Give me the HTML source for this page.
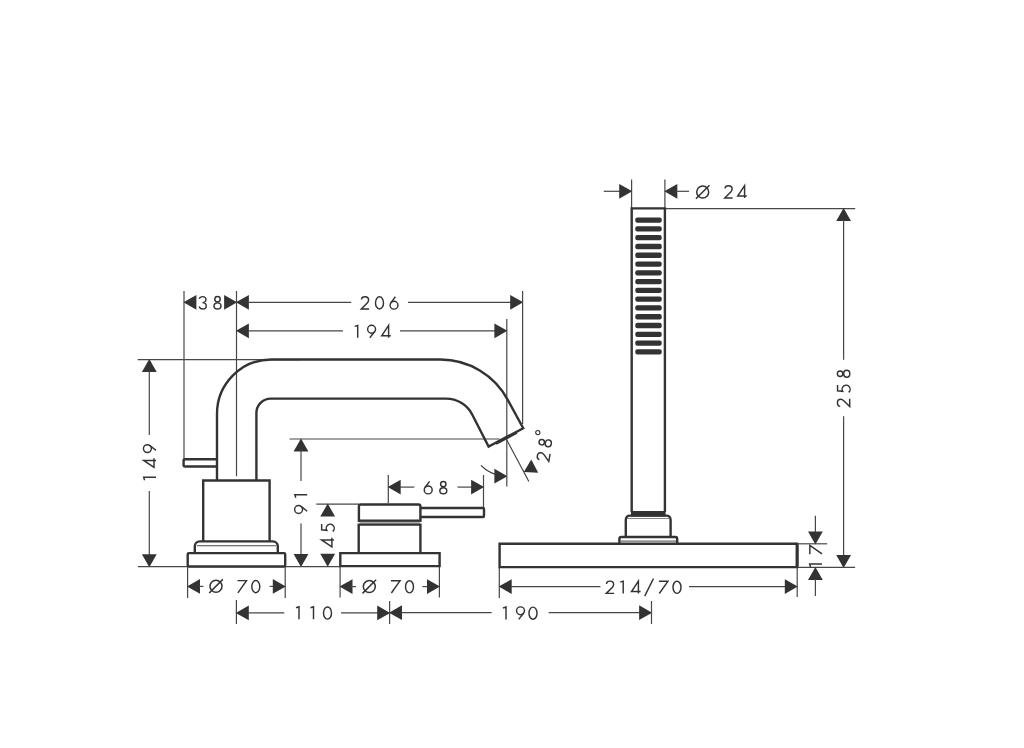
<!DOCTYPE html>
<html><head><meta charset="utf-8"><style>
html,body{margin:0;padding:0;background:#fff;width:1024px;height:748px;overflow:hidden}
svg{display:block}
text{font-family:"Liberation Sans",sans-serif;fill:#333}
</style></head><body>
<svg width="1024" height="748" viewBox="0 0 1024 748">
<rect width="1024" height="748" fill="#fff"/>
<line x1="184" y1="291" x2="184" y2="459" stroke="#474747" stroke-width="1.2"/>
<line x1="236.5" y1="291" x2="236.5" y2="476.3" stroke="#474747" stroke-width="1.2"/>
<polygon points="183.40,302.30 196.40,294.90 196.40,309.70" fill="#333"/>
<polygon points="237.10,302.30 224.10,294.90 224.10,309.70" fill="#333"/>
<g transform="translate(202.70,302.80)" fill="none" stroke="#333" stroke-width="1.45"><path d="M -3.5 -4.0 C -3.0 -5.4 -1.6 -6.15 0 -6.15 C 1.9 -6.15 3.3 -4.9 3.3 -3.25 C 3.3 -1.4 1.8 -0.15 -0.3 -0.15 C 2.0 -0.15 3.55 1.4 3.55 3.1 C 3.55 4.9 2.0 6.2 0 6.2 C -1.6 6.2 -3.0 5.3 -3.6 3.7"/></g>
<g transform="translate(217.50,302.80)" fill="none" stroke="#333" stroke-width="1.45"><ellipse cx="0" cy="-3.5" rx="2.7" ry="2.7"/><ellipse cx="0" cy="3.15" rx="3.45" ry="3.05"/></g>
<polygon points="235.90,302.30 248.90,294.90 248.90,309.70" fill="#333"/>
<line x1="248" y1="302.3" x2="351.3" y2="302.3" stroke="#474747" stroke-width="1.2"/>
<g transform="translate(365.00,302.90)" fill="none" stroke="#333" stroke-width="1.45"><path d="M -3.45 -3.4 C -3.45 -5.2 -1.9 -6.15 0.1 -6.15 C 2.1 -6.15 3.6 -4.8 3.6 -2.9 C 3.6 -1.6 3.0 -0.7 2.2 0.2 L -3.7 6.1 L 4.1 6.1"/></g>
<g transform="translate(379.50,302.90)" fill="none" stroke="#333" stroke-width="1.45"><ellipse cx="0" cy="0" rx="4.0" ry="6.1"/></g>
<g transform="translate(394.00,302.90)" fill="none" stroke="#333" stroke-width="1.45"><path d="M 1.4 -6.2 L -3.17 -0.06"/><circle cx="0" cy="2.3" r="3.95"/></g>
<line x1="408" y1="302.3" x2="511" y2="302.3" stroke="#474747" stroke-width="1.2"/>
<polygon points="523.20,302.30 510.20,294.90 510.20,309.70" fill="#333"/>
<line x1="522.6" y1="291" x2="522.6" y2="424" stroke="#474747" stroke-width="1.2"/>
<polygon points="235.90,330.80 248.90,323.40 248.90,338.20" fill="#333"/>
<line x1="248" y1="330.8" x2="343" y2="330.8" stroke="#474747" stroke-width="1.2"/>
<g transform="translate(357.70,331.60)" fill="none" stroke="#333" stroke-width="1.45"><path d="M 0 6.2 L 0 -6.15 L -3.0 -5.2"/></g>
<g transform="translate(371.60,331.60)" fill="none" stroke="#333" stroke-width="1.45"><circle cx="0" cy="-2.4" r="3.95"/><path d="M 3.09 0.06 L -1.8 6.2"/></g>
<g transform="translate(386.00,331.60)" fill="none" stroke="#333" stroke-width="1.45"><path d="M 4.8 4.2 L -4.3 4.2 L 2.6 -6.15 L 2.6 6.2"/></g>
<line x1="400" y1="330.8" x2="495" y2="330.8" stroke="#474747" stroke-width="1.2"/>
<polygon points="507.40,330.80 494.40,323.40 494.40,338.20" fill="#333"/>
<line x1="506.8" y1="319" x2="506.8" y2="486.4" stroke="#474747" stroke-width="1.2"/>
<line x1="137.7" y1="359.6" x2="300" y2="359.6" stroke="#474747" stroke-width="1.2"/>
<polygon points="149.30,359.00 141.90,372.00 156.70,372.00" fill="#333"/>
<line x1="149.3" y1="371" x2="149.3" y2="435" stroke="#474747" stroke-width="1.2"/>
<g transform="translate(149.80,477.20) rotate(-90)" fill="none" stroke="#333" stroke-width="1.45"><path d="M 0 6.2 L 0 -6.15 L -3.0 -5.2"/></g>
<g transform="translate(149.80,463.00) rotate(-90)" fill="none" stroke="#333" stroke-width="1.45"><path d="M 4.8 4.2 L -4.3 4.2 L 2.6 -6.15 L 2.6 6.2"/></g>
<g transform="translate(149.80,448.60) rotate(-90)" fill="none" stroke="#333" stroke-width="1.45"><circle cx="0" cy="-2.4" r="3.95"/><path d="M 3.09 0.06 L -1.8 6.2"/></g>
<line x1="149.3" y1="491" x2="149.3" y2="555" stroke="#474747" stroke-width="1.2"/>
<polygon points="149.30,567.20 141.90,554.20 156.70,554.20" fill="#333"/>
<line x1="138" y1="566.6" x2="340" y2="566.6" stroke="#474747" stroke-width="1.2"/>
<line x1="289.5" y1="439" x2="499.7" y2="439" stroke="#474747" stroke-width="1.2"/>
<polygon points="301.00,438.40 293.60,451.40 308.40,451.40" fill="#333"/>
<line x1="301" y1="450" x2="301" y2="481" stroke="#474747" stroke-width="1.2"/>
<g transform="translate(301.00,509.50) rotate(-90)" fill="none" stroke="#333" stroke-width="1.45"><circle cx="0" cy="-2.4" r="3.95"/><path d="M 3.09 0.06 L -1.8 6.2"/></g>
<g transform="translate(301.00,494.80) rotate(-90)" fill="none" stroke="#333" stroke-width="1.45"><path d="M 0 6.2 L 0 -6.15 L -3.0 -5.2"/></g>
<line x1="301" y1="523.5" x2="301" y2="555" stroke="#474747" stroke-width="1.2"/>
<polygon points="301.00,567.00 293.60,554.00 308.40,554.00" fill="#333"/>
<line x1="316.3" y1="504.2" x2="359" y2="504.2" stroke="#474747" stroke-width="1.2"/>
<polygon points="327.70,503.60 320.30,516.60 335.10,516.60" fill="#333"/>
<polygon points="327.70,566.80 320.30,553.80 335.10,553.80" fill="#333"/>
<g transform="translate(327.70,542.50) rotate(-90)" fill="none" stroke="#333" stroke-width="1.45"><path d="M 4.8 4.2 L -4.3 4.2 L 2.6 -6.15 L 2.6 6.2"/></g>
<g transform="translate(327.70,528.00) rotate(-90)" fill="none" stroke="#333" stroke-width="1.45"><path d="M 3.9 -6.05 L -1.8 -6.05 L -2.3 -0.9 A 4.0 4.0 0 1 1 -3.4 5.0"/></g>
<line x1="388.3" y1="475" x2="388.3" y2="503" stroke="#474747" stroke-width="1.2"/>
<line x1="483.5" y1="475" x2="483.5" y2="508" stroke="#474747" stroke-width="1.2"/>
<polygon points="387.70,487.10 400.70,479.70 400.70,494.50" fill="#333"/>
<line x1="400" y1="487.1" x2="414.3" y2="487.1" stroke="#474747" stroke-width="1.2"/>
<g transform="translate(428.20,487.60)" fill="none" stroke="#333" stroke-width="1.45"><path d="M 1.4 -6.2 L -3.17 -0.06"/><circle cx="0" cy="2.3" r="3.95"/></g>
<g transform="translate(443.30,487.60)" fill="none" stroke="#333" stroke-width="1.45"><ellipse cx="0" cy="-3.5" rx="2.7" ry="2.7"/><ellipse cx="0" cy="3.15" rx="3.45" ry="3.05"/></g>
<line x1="457.5" y1="487.1" x2="472" y2="487.1" stroke="#474747" stroke-width="1.2"/>
<polygon points="484.10,487.10 471.10,479.70 471.10,494.50" fill="#333"/>
<line x1="187.6" y1="567" x2="187.6" y2="598" stroke="#474747" stroke-width="1.2"/>
<line x1="285.2" y1="567" x2="285.2" y2="598" stroke="#474747" stroke-width="1.2"/>
<polygon points="187.00,586.40 200.00,579.00 200.00,593.80" fill="#333"/>
<line x1="199" y1="586.4" x2="203.4" y2="586.4" stroke="#474747" stroke-width="1.2"/>
<circle cx="216" cy="586.2" r="6.0" stroke="#333" stroke-width="1.5" fill="none"/>
<line x1="209.2" y1="593.0" x2="222.8" y2="579.4000000000001" stroke="#333" stroke-width="1.5"/>
<g transform="translate(242.00,586.60)" fill="none" stroke="#333" stroke-width="1.45"><path d="M -4.5 -5.95 L 4.5 -5.95 L -4.1 6.2"/></g>
<g transform="translate(255.80,586.60)" fill="none" stroke="#333" stroke-width="1.45"><ellipse cx="0" cy="0" rx="4.0" ry="6.1"/></g>
<line x1="269.6" y1="586.4" x2="274" y2="586.4" stroke="#474747" stroke-width="1.2"/>
<polygon points="285.80,586.40 272.80,579.00 272.80,593.80" fill="#333"/>
<line x1="340.1" y1="566" x2="340.1" y2="597.4" stroke="#474747" stroke-width="1.2"/>
<line x1="439.4" y1="566" x2="439.4" y2="597.4" stroke="#474747" stroke-width="1.2"/>
<polygon points="339.50,586.60 352.50,579.20 352.50,594.00" fill="#333"/>
<line x1="351" y1="586.6" x2="356" y2="586.6" stroke="#474747" stroke-width="1.2"/>
<circle cx="369.3" cy="586.6" r="6.0" stroke="#333" stroke-width="1.5" fill="none"/>
<line x1="362.5" y1="593.4" x2="376.1" y2="579.8000000000001" stroke="#333" stroke-width="1.5"/>
<g transform="translate(395.50,586.80)" fill="none" stroke="#333" stroke-width="1.45"><path d="M -4.5 -5.95 L 4.5 -5.95 L -4.1 6.2"/></g>
<g transform="translate(409.50,586.80)" fill="none" stroke="#333" stroke-width="1.45"><ellipse cx="0" cy="0" rx="4.0" ry="6.1"/></g>
<line x1="422.4" y1="586.6" x2="428" y2="586.6" stroke="#474747" stroke-width="1.2"/>
<polygon points="440.00,586.60 427.00,579.20 427.00,594.00" fill="#333"/>
<line x1="236.4" y1="600" x2="236.4" y2="624" stroke="#474747" stroke-width="1.2"/>
<polygon points="235.80,612.90 248.80,605.50 248.80,620.30" fill="#333"/>
<line x1="248" y1="612.9" x2="284.3" y2="612.9" stroke="#474747" stroke-width="1.2"/>
<g transform="translate(299.00,613.00)" fill="none" stroke="#333" stroke-width="1.45"><path d="M 0 6.2 L 0 -6.15 L -3.0 -5.2"/></g>
<g transform="translate(313.50,613.00)" fill="none" stroke="#333" stroke-width="1.45"><path d="M 0 6.2 L 0 -6.15 L -3.0 -5.2"/></g>
<g transform="translate(327.50,613.00)" fill="none" stroke="#333" stroke-width="1.45"><ellipse cx="0" cy="0" rx="4.0" ry="6.1"/></g>
<line x1="341" y1="612.9" x2="378" y2="612.9" stroke="#474747" stroke-width="1.2"/>
<polygon points="390.20,612.90 377.20,605.50 377.20,620.30" fill="#333"/>
<line x1="389.6" y1="601" x2="389.6" y2="624" stroke="#474747" stroke-width="1.2"/>
<polygon points="389.00,612.70 402.00,605.30 402.00,620.10" fill="#333"/>
<line x1="401" y1="612.7" x2="491.6" y2="612.7" stroke="#474747" stroke-width="1.2"/>
<g transform="translate(506.00,613.20)" fill="none" stroke="#333" stroke-width="1.45"><path d="M 0 6.2 L 0 -6.15 L -3.0 -5.2"/></g>
<g transform="translate(520.50,613.20)" fill="none" stroke="#333" stroke-width="1.45"><circle cx="0" cy="-2.4" r="3.95"/><path d="M 3.09 0.06 L -1.8 6.2"/></g>
<g transform="translate(533.00,613.20)" fill="none" stroke="#333" stroke-width="1.45"><ellipse cx="0" cy="0" rx="4.0" ry="6.1"/></g>
<line x1="548.7" y1="612.7" x2="640" y2="612.7" stroke="#474747" stroke-width="1.2"/>
<polygon points="652.10,612.70 639.10,605.30 639.10,620.10" fill="#333"/>
<line x1="651.5" y1="601" x2="651.5" y2="624" stroke="#474747" stroke-width="1.2"/>
<line x1="499.3" y1="567" x2="499.3" y2="598" stroke="#474747" stroke-width="1.2"/>
<line x1="797.2" y1="567" x2="797.2" y2="597" stroke="#474747" stroke-width="1.2"/>
<polygon points="498.70,586.60 511.70,579.20 511.70,594.00" fill="#333"/>
<line x1="511" y1="586.6" x2="600.4" y2="586.6" stroke="#474747" stroke-width="1.2"/>
<g transform="translate(610.00,587.30)" fill="none" stroke="#333" stroke-width="1.45"><path d="M -3.45 -3.4 C -3.45 -5.2 -1.9 -6.15 0.1 -6.15 C 2.1 -6.15 3.6 -4.8 3.6 -2.9 C 3.6 -1.6 3.0 -0.7 2.2 0.2 L -3.7 6.1 L 4.1 6.1"/></g>
<g transform="translate(623.20,587.30)" fill="none" stroke="#333" stroke-width="1.45"><path d="M 0 6.2 L 0 -6.15 L -3.0 -5.2"/></g>
<g transform="translate(635.80,587.30)" fill="none" stroke="#333" stroke-width="1.45"><path d="M 4.8 4.2 L -4.3 4.2 L 2.6 -6.15 L 2.6 6.2"/></g>
<line x1="644.7" y1="596.0999999999999" x2="653.5" y2="578.5" stroke="#333" stroke-width="1.45"/>
<g transform="translate(663.40,587.30)" fill="none" stroke="#333" stroke-width="1.45"><path d="M -4.5 -5.95 L 4.5 -5.95 L -4.1 6.2"/></g>
<g transform="translate(677.00,587.30)" fill="none" stroke="#333" stroke-width="1.45"><ellipse cx="0" cy="0" rx="4.0" ry="6.1"/></g>
<line x1="689" y1="586.6" x2="786" y2="586.6" stroke="#474747" stroke-width="1.2"/>
<polygon points="797.80,586.60 784.80,579.20 784.80,594.00" fill="#333"/>
<line x1="631.6" y1="179.6" x2="631.6" y2="208" stroke="#474747" stroke-width="1.2"/>
<line x1="664.9" y1="179.6" x2="664.9" y2="208" stroke="#474747" stroke-width="1.2"/>
<line x1="603.7" y1="191.3" x2="620" y2="191.3" stroke="#474747" stroke-width="1.2"/>
<polygon points="632.20,191.30 619.20,183.90 619.20,198.70" fill="#333"/>
<polygon points="664.30,191.30 677.30,183.90 677.30,198.70" fill="#333"/>
<line x1="676" y1="191.3" x2="689" y2="191.3" stroke="#474747" stroke-width="1.2"/>
<circle cx="702.7" cy="192.0" r="6.0" stroke="#333" stroke-width="1.5" fill="none"/>
<line x1="695.9000000000001" y1="198.8" x2="709.5" y2="185.2" stroke="#333" stroke-width="1.5"/>
<g transform="translate(728.50,191.80)" fill="none" stroke="#333" stroke-width="1.45"><path d="M -3.45 -3.4 C -3.45 -5.2 -1.9 -6.15 0.1 -6.15 C 2.1 -6.15 3.6 -4.8 3.6 -2.9 C 3.6 -1.6 3.0 -0.7 2.2 0.2 L -3.7 6.1 L 4.1 6.1"/></g>
<g transform="translate(742.00,191.80)" fill="none" stroke="#333" stroke-width="1.45"><path d="M 4.8 4.2 L -4.3 4.2 L 2.6 -6.15 L 2.6 6.2"/></g>
<line x1="664.9" y1="208.6" x2="855.2" y2="208.6" stroke="#474747" stroke-width="1.2"/>
<polygon points="843.60,208.00 836.20,221.00 851.00,221.00" fill="#333"/>
<line x1="843.6" y1="220" x2="843.6" y2="359.7" stroke="#474747" stroke-width="1.2"/>
<g transform="translate(843.60,402.90) rotate(-90)" fill="none" stroke="#333" stroke-width="1.45"><path d="M -3.45 -3.4 C -3.45 -5.2 -1.9 -6.15 0.1 -6.15 C 2.1 -6.15 3.6 -4.8 3.6 -2.9 C 3.6 -1.6 3.0 -0.7 2.2 0.2 L -3.7 6.1 L 4.1 6.1"/></g>
<g transform="translate(843.60,389.00) rotate(-90)" fill="none" stroke="#333" stroke-width="1.45"><path d="M 3.9 -6.05 L -1.8 -6.05 L -2.3 -0.9 A 4.0 4.0 0 1 1 -3.4 5.0"/></g>
<g transform="translate(843.60,373.80) rotate(-90)" fill="none" stroke="#333" stroke-width="1.45"><ellipse cx="0" cy="-3.5" rx="2.7" ry="2.7"/><ellipse cx="0" cy="3.15" rx="3.45" ry="3.05"/></g>
<line x1="843.6" y1="416.2" x2="843.6" y2="556" stroke="#474747" stroke-width="1.2"/>
<polygon points="843.60,568.00 836.20,555.00 851.00,555.00" fill="#333"/>
<line x1="798" y1="543.8" x2="827.2" y2="543.8" stroke="#474747" stroke-width="1.2"/>
<line x1="798" y1="567.4" x2="855.1" y2="567.4" stroke="#474747" stroke-width="1.2"/>
<line x1="815.4" y1="515.7" x2="815.4" y2="532" stroke="#474747" stroke-width="1.2"/>
<polygon points="815.40,544.40 808.00,531.40 822.80,531.40" fill="#333"/>
<g transform="translate(815.80,564.10) rotate(-90)" fill="none" stroke="#333" stroke-width="1.45"><path d="M 0 6.2 L 0 -6.15 L -3.0 -5.2"/></g>
<g transform="translate(815.80,549.80) rotate(-90)" fill="none" stroke="#333" stroke-width="1.45"><path d="M -4.5 -5.95 L 4.5 -5.95 L -4.1 6.2"/></g>
<polygon points="815.40,567.00 808.00,580.00 822.80,580.00" fill="#333"/>
<line x1="815.4" y1="579" x2="815.4" y2="596" stroke="#474747" stroke-width="1.2"/>
<line x1="506.8" y1="440.0" x2="528.8651634509368" y2="481.49853686436956" stroke="#474747" stroke-width="1.2"/>
<path d="M 480.98 465.37 A 36.2 36.2 0 0 0 494.64 474.10" stroke="#333" stroke-width="1.2" fill="none" />
<polygon points="507.40,476.20 494.40,468.80 494.40,483.60" fill="#333"/>
<polygon points="523.79,471.96 531.27,459.61 538.22,472.68" fill="#333"/>
<g transform="translate(543.40,456.80) rotate(-80)" fill="none" stroke="#333" stroke-width="1.45"><path d="M -3.45 -3.4 C -3.45 -5.2 -1.9 -6.15 0.1 -6.15 C 2.1 -6.15 3.6 -4.8 3.6 -2.9 C 3.6 -1.6 3.0 -0.7 2.2 0.2 L -3.7 6.1 L 4.1 6.1"/></g>
<g transform="translate(545.20,442.80) rotate(-80)" fill="none" stroke="#333" stroke-width="1.45"><ellipse cx="0" cy="-3.5" rx="2.7" ry="2.7"/><ellipse cx="0" cy="3.15" rx="3.45" ry="3.05"/></g>
<circle cx="537.8" cy="432.6" r="2.1" stroke="#333" stroke-width="1.1" fill="none"/>
<path d="M 217 480 L 217 414 A 54.5 54.5 0 0 1 271.5 359.5 L 440.4 359.5 A 76.5 76.5 0 0 1 507.9 400.1 L 523.2 428.2 L 488.6 446.6 L 472.06 414.2 A 29.4 29.4 0 0 0 446.1 398.6 L 270.7 398.6 A 14.3 14.3 0 0 0 256.4 412.9 L 256.4 480" stroke="#333" stroke-width="2.4" fill="none" />
<path d="M 496 443.8 L 516.8 432.8" stroke="#333" stroke-width="2.2" fill="none" />
<path d="M 217 459.3 L 185 459.3 Q 183.6 459.3 183.6 460.7 L 183.6 465.1 Q 183.6 466.5 185 466.5 L 217 466.5" stroke="#333" stroke-width="2.4" fill="none" />
<path d="M 203.2 540.9 L 203.2 480.5 L 269.6 480.5 L 269.6 540.9" stroke="#333" stroke-width="2.4" fill="none" />
<path d="M 194.8 553 L 194.8 546.4 A 5 5 0 0 1 199.8 541.4 L 272.8 541.4 A 5 5 0 0 1 277.8 546.4 L 277.8 553" stroke="#333" stroke-width="2.4" fill="none" />
<line x1="197" y1="545.8" x2="276" y2="545.8" stroke="#474747" stroke-width="1.1"/>
<rect x="187.7" y="553.1" width="97.5" height="13.4" rx="1.2" stroke="#333" stroke-width="2.4" fill="none"/>
<path d="M 358.9 520.8 L 358.9 506.3 Q 358.9 504.5 360.7 504.5 L 418.6 504.5 Q 420.4 504.5 420.4 506.3 L 420.4 520.8 Z" stroke="#333" stroke-width="2.4" fill="none" />
<rect x="359.5" y="521.8" width="60.4" height="2.0" fill="#aaa"/>
<path d="M 358.7 553.1 L 358.7 524.6 L 420.4 524.6 L 420.4 553.1" stroke="#333" stroke-width="2.4" fill="none" />
<path d="M 340.3 553.1 L 439.6 553.1 L 439.6 566.1 L 340.3 566.1 Z" stroke="#333" stroke-width="2.4" fill="none" />
<path d="M 420.4 508 L 483 508 Q 484 508 484 509 L 484 516 Q 484 517 483 517 L 420.4 517" stroke="#333" stroke-width="2.4" fill="none" />
<path d="M 631.7 512 L 631.7 208.4 L 664.9 208.4 L 664.9 512" stroke="#333" stroke-width="2.4" fill="none" />
<rect x="631" y="511" width="34.6" height="5.6" fill="#333"/>
<rect x="635.3" y="217.50" width="26.4" height="5.3" rx="2" fill="#333"/>
<rect x="635.3" y="226.28" width="26.4" height="5.3" rx="2" fill="#333"/>
<rect x="635.3" y="235.06" width="26.4" height="5.3" rx="2" fill="#333"/>
<rect x="635.3" y="243.84" width="26.4" height="5.3" rx="2" fill="#333"/>
<rect x="635.3" y="252.62" width="26.4" height="5.3" rx="2" fill="#333"/>
<rect x="635.3" y="261.40" width="26.4" height="5.3" rx="2" fill="#333"/>
<rect x="635.3" y="270.18" width="26.4" height="5.3" rx="2" fill="#333"/>
<rect x="635.3" y="278.96" width="26.4" height="5.3" rx="2" fill="#333"/>
<rect x="635.3" y="287.74" width="26.4" height="5.3" rx="2" fill="#333"/>
<rect x="635.3" y="296.52" width="26.4" height="5.3" rx="2" fill="#333"/>
<rect x="635.3" y="305.30" width="26.4" height="5.3" rx="2" fill="#333"/>
<rect x="635.3" y="314.08" width="26.4" height="5.3" rx="2" fill="#333"/>
<rect x="635.3" y="322.86" width="26.4" height="5.3" rx="2" fill="#333"/>
<rect x="635.3" y="331.64" width="26.4" height="5.3" rx="2" fill="#333"/>
<rect x="635.3" y="340.42" width="26.4" height="5.3" rx="2" fill="#333"/>
<rect x="635.3" y="349.20" width="26.4" height="5.3" rx="2" fill="#333"/>
<path d="M 625.8 537 L 625.8 520 Q 625.8 515.6 630.2 515.6 L 666.2 515.6 Q 670.6 515.6 670.6 520 L 670.6 537" stroke="#333" stroke-width="2.4" fill="none" />
<line x1="627" y1="518.5" x2="669.4" y2="518.5" stroke="#888" stroke-width="1.2"/>
<path d="M 619.4 543.6 L 619.4 538.9 Q 619.4 537 621.3 537 L 675.3 537 Q 677.2 537 677.2 538.9 L 677.2 543.6" stroke="#333" stroke-width="2.4" fill="none" />
<line x1="620.5" y1="541.1" x2="676" y2="541.1" stroke="#474747" stroke-width="1.0"/>
<path d="M 499.6 567.1 L 499.6 543.7 L 797 543.7 L 797 567.1 Z" stroke="#333" stroke-width="2.4" fill="none" />
<line x1="797.2" y1="544.2" x2="797.2" y2="566.6" stroke="#333" stroke-width="3.0"/>
</svg>
</body></html>
